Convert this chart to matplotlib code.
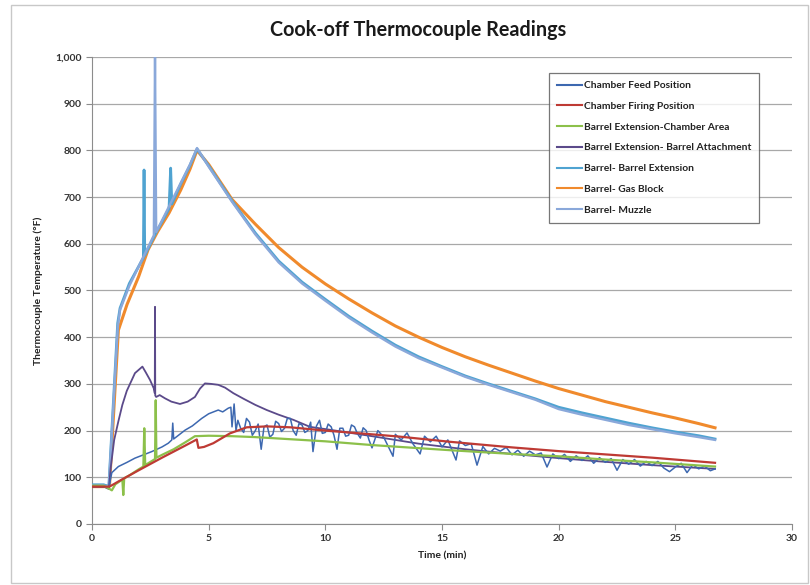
import matplotlib.pyplot as plt
from matplotlib.patches import Rectangle
from matplotlib.ticker import FuncFormatter

plt.rcParams['font.family'] = ['Lato', 'DejaVu Sans']

# --- data (time in min, temperature in degF) ---
t_feed = [0, 0.5, 0.72, 0.85, 1.13, 1.5, 1.84, 2.2, 2.56, 3.0, 3.27, 3.42, 3.46, 3.5,
          3.99, 4.3, 4.7, 5.0, 5.41, 5.6, 5.84, 5.95,
          6.0, 6.09, 6.17, 6.25, 6.37, 6.5, 6.62, 6.75, 6.87, 7.0, 7.12, 7.25, 7.37,
          7.5, 7.62, 7.75, 7.87, 8.0, 8.12, 8.25, 8.37, 8.5, 8.62, 8.75, 8.87, 9.0,
          9.12, 9.25, 9.37, 9.47, 9.62, 9.75, 9.87, 10.0, 10.12, 10.25, 10.37, 10.5,
          10.62, 10.75, 10.87, 11.0, 11.12, 11.25, 11.37, 11.5, 11.62, 11.75, 11.87,
          12.0, 12.25, 12.5, 12.9, 13.0, 13.25, 13.5, 13.75, 14.06, 14.25, 14.5, 14.75,
          15.0, 15.25, 15.6, 15.75, 16.0, 16.25, 16.5, 16.75, 17.0, 17.25, 17.5, 17.75,
          18.0, 18.25, 18.5, 18.75, 19.0, 19.25, 19.5, 19.75, 20.0, 20.25, 20.5, 20.75,
          21.0, 21.25, 21.5, 21.75, 22.0, 22.25, 22.5, 22.75, 23.0, 23.25, 23.5, 23.75,
          24.0, 24.25, 24.5, 24.75, 25.0, 25.25, 25.5, 25.75, 26.0, 26.25, 26.5, 26.7]
T_feed = [80, 80, 78, 110, 123, 132, 141, 148, 155, 165, 173, 180, 216, 182,
          201, 210, 226, 236, 244, 240, 248, 250,
          208, 257, 200, 222, 205, 196, 226, 218, 190, 200, 214, 160, 208,
          212, 186, 192, 220, 215, 198, 205, 226, 226, 200, 190, 215, 212,
          196, 200, 218, 155, 210, 222, 194, 196, 214, 208, 190, 160,
          205, 205, 188, 190, 212, 208, 194, 184, 206, 200, 180,
          163, 200, 186, 145, 192, 180, 195, 172, 150, 188, 176, 188,
          165, 180, 137, 178, 168, 172, 126, 166, 150, 162, 156, 164,
          148, 158, 145, 156, 148, 152, 122, 150, 140, 149, 134, 146,
          136, 146, 130, 142, 132, 140, 115, 138, 128, 138, 124, 134,
          125, 134, 120, 112, 122, 130, 110, 127, 118, 124, 114, 118]

t_firing = [0, 0.5, 0.75, 1.13, 2.0, 3.0, 4.0, 4.49, 4.56, 4.8, 5.2, 5.91, 6.63, 7.5, 8.5,
            10, 12, 13.2, 15.34, 18, 20, 22, 24, 26.7]
T_firing = [80, 80, 80, 91, 115, 142, 168, 181, 163, 165, 173, 194, 207, 209, 207,
            200, 192, 187, 176, 164, 156, 149, 142, 131]

t_area = [0, 0.5, 0.72, 0.85, 1.0, 1.3, 1.34, 1.38, 1.6, 2.0, 2.2, 2.24, 2.28, 2.6, 2.7,
          2.73, 2.76, 3.0, 3.5, 4.0, 4.41, 5.0, 6.0, 7.0, 8.0, 10, 12, 13.2, 15.34, 18,
          20, 22, 24, 26.7]
T_area = [82, 82, 76, 72, 85, 95, 62, 98, 104, 117, 123, 205, 126, 136, 139,
          265, 142, 148, 160, 175, 188, 189, 188, 186, 183, 177, 169, 165, 158, 150,
          145, 138, 132, 123]

t_attach = [0, 0.5, 0.72, 0.8, 0.95, 1.13, 1.3, 1.49, 1.84, 2.0, 2.16, 2.3, 2.49, 2.65,
            2.69, 2.7, 2.71, 2.75, 2.9, 3.13, 3.4, 3.77, 4.1, 4.41, 4.63, 4.84, 5.1,
            5.41, 5.7, 6.06, 6.5, 7.0, 7.49, 8.0, 8.63, 9.34, 10.3, 12, 14, 16, 18, 20,
            22, 24, 26, 26.7]
T_attach = [80, 80, 75, 120, 180, 220, 255, 285, 323, 330, 337, 325, 308, 290,
            280, 465, 275, 272, 276, 269, 262, 257, 262, 272, 290, 301, 300,
            298, 292, 280, 268, 255, 244, 234, 223, 208, 201, 188, 172, 160, 150, 141,
            133, 126, 120, 118]

t_ext = [0, 0.5, 0.72, 1.1, 1.2, 1.6, 2.2, 2.23, 2.26, 2.7, 3.3, 3.37, 3.42, 3.8, 4.2,
         4.5, 5, 6, 7, 8, 9, 10, 11, 12, 13, 14, 15, 16, 17, 18, 19, 20, 21, 22, 23,
         24, 25, 26, 26.7]
T_ext = [84, 84, 80, 430, 462, 515, 570, 758, 575, 620, 675, 762, 685, 728, 768,
         803, 767, 692, 623, 563, 518, 481, 445, 413, 383, 358, 337, 317, 300, 284,
         268, 250, 238, 227, 216, 206, 197, 189, 182]

t_gas = [0, 0.5, 0.75, 1.13, 1.5, 2.0, 2.4, 2.8, 3.3, 3.8, 4.2, 4.5, 5, 6, 7, 8, 9, 10,
         11, 12, 13, 14, 15, 16, 17, 18, 19, 20, 21, 22, 23, 24, 25, 26, 26.7]
T_gas = [80, 80, 82, 415, 470, 530, 587, 625, 666, 715, 760, 800, 770, 695, 642, 592,
         550, 514, 482, 452, 424, 400, 378, 358, 340, 323, 306, 290, 276, 262, 250,
         238, 227, 215, 206]

t_muzzle = [0, 0.5, 0.72, 1.1, 1.2, 1.6, 2.2, 2.65, 2.7, 2.75, 3.3, 3.8, 4.2, 4.5, 5, 6,
            7, 8, 9, 10, 11, 12, 13, 14, 15, 16, 17, 18, 19, 20, 21, 22, 23, 24, 25,
            26, 26.7]
T_muzzle = [82, 82, 80, 420, 458, 510, 572, 618, 1000, 625, 680, 730, 770, 805, 765,
            690, 620, 560, 515, 478, 442, 410, 380, 355, 335, 315, 298, 282, 266, 246,
            234, 223, 212, 203, 194, 186, 180]

labels = ['Chamber Feed Position', 'Chamber Firing Position',
          'Barrel Extension-Chamber Area', 'Barrel Extension- Barrel Attachment',
          'Barrel- Barrel Extension', 'Barrel- Gas Block', 'Barrel- Muzzle']
colors = ['#3D68B0', '#BE3A34', '#8CC04A', '#5B4A8A', '#4FA3D1', '#F08A2C', '#8AA8DA']

fig = plt.figure(figsize=(8.1, 5.85), dpi=100)
fig.patches.append(Rectangle((0.013, 0.004), 0.984, 0.988, transform=fig.transFigure,
                             fill=False, edgecolor='#C8C8C8', lw=1))
ax = fig.add_axes([0.1136, 0.1043, 0.8642, 0.7983])

ax.plot(t_gas, T_gas, color=colors[5], lw=2.2, label=labels[5], zorder=3)
ax.plot(t_ext, T_ext, color=colors[4], lw=2.0, label=labels[4], zorder=4)
ax.plot(t_muzzle, T_muzzle, color=colors[6], lw=1.7, label=labels[6], zorder=5)
ax.plot(t_attach, T_attach, color=colors[3], lw=1.3, label=labels[3], zorder=6)
ax.plot(t_feed, T_feed, color=colors[0], lw=1.1, label=labels[0], zorder=7)
ax.plot(t_area, T_area, color=colors[2], lw=1.6, label=labels[2], zorder=8)
ax.plot(t_firing, T_firing, color=colors[1], lw=1.6, label=labels[1], zorder=9)

ax.set_xlim(0, 30)
ax.set_ylim(0, 1000)
ax.set_xticks(range(0, 31, 5))
ax.set_yticks(range(0, 1001, 100))
ax.yaxis.set_major_formatter(FuncFormatter(lambda v, p: f'{int(v):,}'))
ax.grid(axis='y', color='#A8A8A8', lw=0.9)
ax.set_axisbelow(True)
for s in ['top', 'right']:
    ax.spines[s].set_visible(False)
for s in ['left', 'bottom']:
    ax.spines[s].set_color('#8C8C8C')
ax.tick_params(colors='#8C8C8C', length=4, labelsize=7.5, labelcolor='#333333')
for lab in ax.get_xticklabels() + ax.get_yticklabels():
    lab.set_fontweight('bold')

ax.set_xlabel('Time (min)', fontsize=7.5, fontweight='bold', color='#222222', labelpad=6)
ax.set_ylabel('Thermocouple Temperature (°F)', fontsize=7.5, fontweight='bold',
              color='#222222', labelpad=9)
fig.text(0.516, 0.949, 'Cook-off Thermocouple Readings', ha='center', va='center',
         fontsize=14.2, fontweight='bold', color='#1a1a1a')

handles, labs = ax.get_legend_handles_labels()
order = [labels.index(l) for l in labs]
pairs = sorted(zip(order, handles, labs))
leg = ax.legend([p[1] for p in pairs], [p[2] for p in pairs], loc='upper left',
                bbox_to_anchor=(0.645, 0.977), fontsize=7.4, frameon=True, fancybox=False,
                handlelength=2.4, handletextpad=0.2, labelspacing=1.12,
                borderpad=0.8, edgecolor='#555555')
leg.get_frame().set_linewidth(0.9)
for txt in leg.get_texts():
    txt.set_fontweight('bold')
    txt.set_color('#222222')
for ln in leg.get_lines():
    ln.set_linewidth(1.5)

fig.savefig('out.png', dpi=100)
